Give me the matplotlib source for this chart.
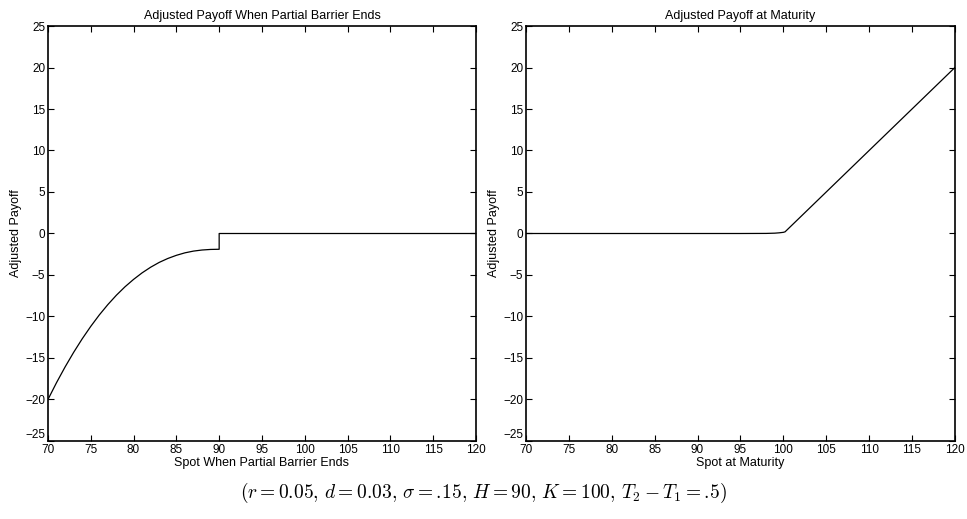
import matplotlib
matplotlib.use("Agg")
import matplotlib.pyplot as plt
import numpy as np

plt.rcParams["font.family"] = ["Liberation Sans Narrow", "Liberation Sans", "DejaVu Sans"]
plt.rcParams["mathtext.fontset"] = "cm"

# Payoff when the partial barrier window ends (H = 90)
barrier_spot = [70, 71, 72, 73, 74, 75, 76, 77, 78, 79, 80,
                81, 82, 83, 84, 85, 86, 87, 88, 89, 90, 90, 120]
barrier_payoff = [-20.0, -17.97, -16.08, -14.32, -12.69, -11.19, -9.81, -8.56, -7.43, -6.42, -5.53,
                  -4.74, -4.06, -3.48, -3.01, -2.63, -2.33, -2.12, -1.99, -1.92, -1.90, 0.0, 0.0]

# Payoff at maturity (K = 100)
maturity_spot = [70, 95, 98, 99, 99.5, 100, 100.2, 120]
maturity_payoff = [0.0, 0.0, 0.01, 0.04, 0.08, 0.14, 0.2, 20.0]

xticks = np.arange(70, 121, 5)
yticks = np.arange(-25, 26, 5)

fig = plt.figure(figsize=(9.67, 5.19), dpi=100)
ax1 = fig.add_axes([0.0496, 0.1503, 0.4426, 0.7996])
ax2 = fig.add_axes([0.5439, 0.1503, 0.4436, 0.7996])


def style(ax):
    ax.set_xlim(70, 120)
    ax.set_ylim(-25, 25)
    ax.set_xticks(xticks)
    ax.set_yticks(yticks)
    ax.tick_params(direction="in", top=True, right=True, length=4,
                   width=0.8, labelsize=8.5, pad=2)
    for s in ax.spines.values():
        s.set_linewidth(1.2)
    # lift the lowest y label clear of the first x label
    ax.get_yticklabels()[0].set_va("bottom")


ax1.plot(barrier_spot, barrier_payoff, color="black", linewidth=0.9)
style(ax1)
ax1.set_title("Adjusted Payoff When Partial Barrier Ends", fontsize=9, pad=5)
ax1.set_xlabel("Spot When Partial Barrier Ends", fontsize=9, labelpad=1)
ax1.set_ylabel("Adjusted Payoff", fontsize=9, labelpad=2)

ax2.plot(maturity_spot, maturity_payoff, color="black", linewidth=0.9)
style(ax2)
ax2.set_title("Adjusted Payoff at Maturity", fontsize=9, pad=5)
ax2.set_xlabel("Spot at Maturity", fontsize=9, labelpad=1)
ax2.set_ylabel("Adjusted Payoff", fontsize=9, labelpad=2)

fig.text(0.5, 0.05,
         r"$(r = 0.05,\, d = 0.03,\, \sigma = .\!15,\, H = 90,\, K = 100,\, T_2 - T_1 = .\!5)$",
         ha="center", va="center", fontsize=14)

fig.savefig("out.png", dpi=100)
